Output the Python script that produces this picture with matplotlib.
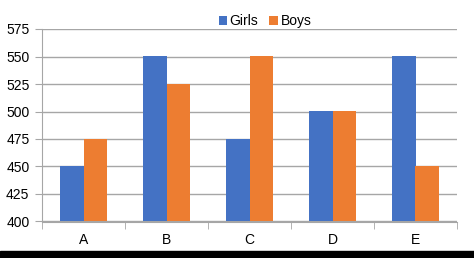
import numpy as np
import matplotlib
matplotlib.use("Agg")
from matplotlib import pyplot as plt
from matplotlib.patches import Rectangle

plt.rcParams['font.family'] = ['Liberation Sans', 'DejaVu Sans']

categories = ["A", "B", "C", "D", "E"]
girls = [450, 550, 475, 500, 550]
boys = [475, 525, 550, 500, 450]
yticks = [400, 425, 450, 475, 500, 525, 550, 575]

blue = "#4472c4"
orange = "#ed7d31"
grey = "#a6a6a6"

W, H = 474, 258
fig = plt.figure(figsize=(W / 100, H / 100), dpi=100)
ax = fig.add_axes([42 / W, 1 - 221.5 / H, (457 - 42) / W, (221.5 - 29) / H])

x = np.arange(len(categories))
bw = 0.28
ax.bar(x - bw / 2, np.array(girls) - 400, bw, bottom=400, color=blue, label="Girls", zorder=3)
ax.bar(x + bw / 2, np.array(boys) - 400, bw, bottom=400, color=orange, label="Boys", zorder=3)

ax.set_xlim(-0.5, len(categories) - 0.5)
ax.set_ylim(400, 575)
ax.set_yticks(yticks)
ax.set_xticks(x)
ax.set_xticklabels(categories)
ax.set_xticks(np.arange(len(categories) + 1) - 0.5, minor=True)
ax.tick_params(axis="x", which="major", length=0, pad=8, labelsize=10)
ax.tick_params(axis="x", which="minor", length=5, color=grey)
ax.tick_params(axis="y", length=5, color=grey, pad=4, labelsize=10)
ax.yaxis.grid(True, color=grey, linewidth=1, zorder=0)
for s in ["top", "right"]:
    ax.spines[s].set_visible(False)
for s in ["left", "bottom"]:
    ax.spines[s].set_color(grey)

fig.legend(loc="center", bbox_to_anchor=(265 / W, 1 - 21 / H), ncol=2, frameon=False,
           fontsize=10, handlelength=0.6, handleheight=0.6, handletextpad=0.2,
           columnspacing=0.8, borderpad=0)

fig.patches.append(Rectangle((0, 0), 1, 7 / H, transform=fig.transFigure, color="black", zorder=10))

plt.savefig("out.png", dpi=100)
